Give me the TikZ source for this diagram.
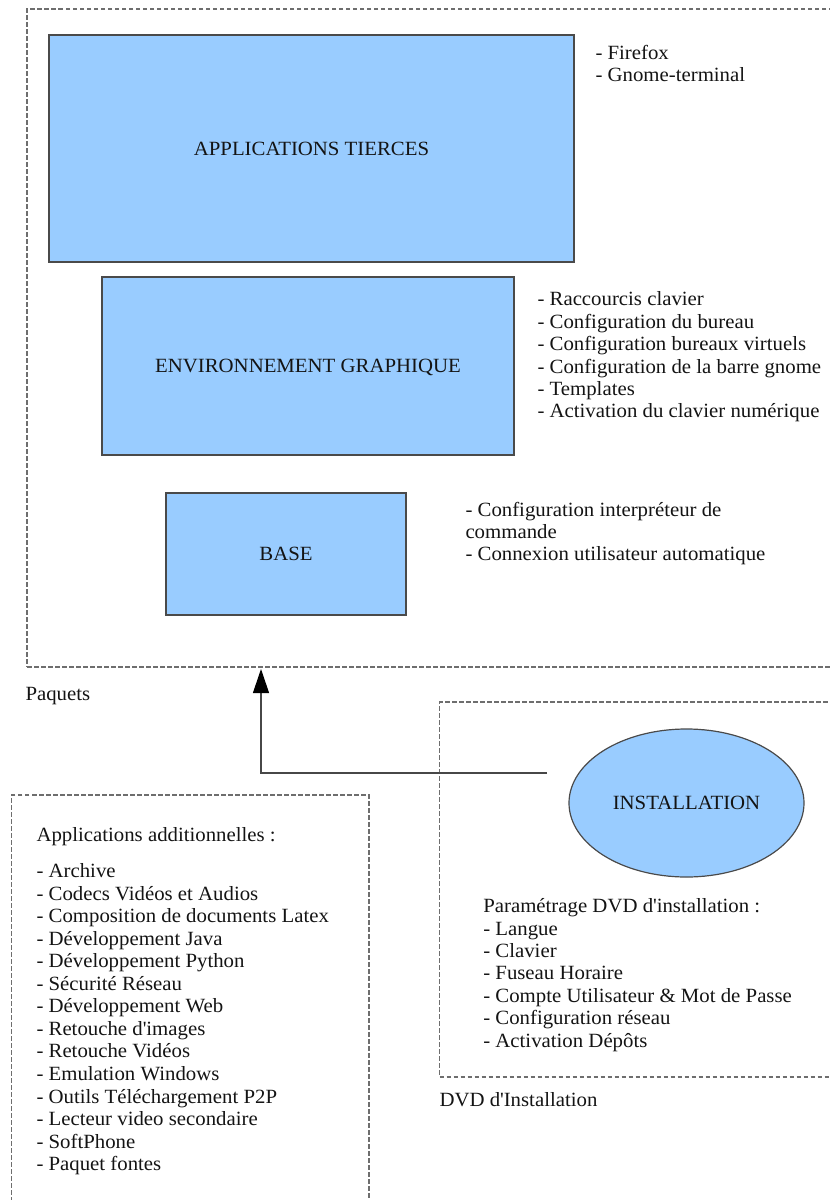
\documentclass[tikz,border=0pt]{standalone}
\usepackage{fontspec}
\setmainfont[FakeStretch=1.03]{Liberation Serif}
\usetikzlibrary{arrows.meta,shapes.geometric}
\definecolor{boxfill}{HTML}{99CCFF}
\definecolor{boxline}{HTML}{4A4A4A}
\definecolor{txt}{HTML}{141414}
\definecolor{dashc}{HTML}{6E6E6E}
\begin{document}
\begin{tikzpicture}[x=1pt,y=-1pt,
  every node/.style={font=\fontsize{20.2}{22.45}\selectfont, text=txt, inner sep=0pt, outer sep=0pt},
  layerbox/.style={draw=boxline, line width=1.6pt, fill=boxfill, anchor=north west, text depth=0pt},
  groupbox/.style={draw=dashc, line width=1.1pt, dash pattern=on 4.5pt off 2.5pt, anchor=north west},
  item/.style={anchor=base west},
  conn/.style={draw=black!72, line width=1.1pt}
]
\useasboundingbox (0,0) rectangle (830,1200);
\clip (0,0) rectangle (830,1200);
\fill[white] (0,0) rectangle (830,1200);

% dashed groups
\node[groupbox, minimum width=830pt, minimum height=658pt] (paq) at (27,9) {};
\node[groupbox, minimum width=500pt, minimum height=375pt] (dvd) at (439.5,702) {};
\node[groupbox, minimum width=357.5pt, minimum height=500pt] (addbox) at (11.5,795) {};

% layers
\node[layerbox, minimum width=525pt, minimum height=227pt] (tiers) at (49,35) {APPLICATIONS TIERCES};
\node[layerbox, minimum width=412pt, minimum height=178pt] (env) at (102,277) {ENVIRONNEMENT GRAPHIQUE};
\node[layerbox, minimum width=240pt, minimum height=122pt] (base) at (166,493) {BASE};

% installation
\node[ellipse, draw=boxline, line width=1.2pt, fill=boxfill, minimum width=235pt, minimum height=148pt, text depth=0pt] (inst) at (686.5,803) {INSTALLATION};

% lists
\foreach \t [count=\i] in {- Firefox, - Gnome-terminal}
  \node[item] (tl-\i) at (595.5,{59.3+22.3*(\i-1)}) {\t};

\foreach \t [count=\i] in {- Raccourcis clavier, - Configuration du bureau, - Configuration bureaux virtuels, - Configuration de la barre gnome, - Templates, - Activation du clavier numérique}
  \node[item] (el-\i) at (537.5,{305.7+22.45*(\i-1)}) {\t};

\foreach \t [count=\i] in {- Configuration interpréteur de, commande, - Connexion utilisateur automatique}
  \node[item] (bl-\i) at (465.5,{516.7+22*(\i-1)}) {\t};

\node[item] (addtitle) at (36.5,841) {Applications additionnelles :};
\foreach \t [count=\i] in {- Archive, - Codecs Vidéos et Audios, - Composition de documents Latex, - Développement Java, - Développement Python, - Sécurité Réseau, - Développement Web, - Retouche d\textquotesingle images, - Retouche Vidéos, - Emulation Windows, - Outils Téléchargement P2P, - Lecteur video secondaire, - SoftPhone, - Paquet fontes}
  \node[item] (al-\i) at (36.5,{877.5+22.55*(\i-1)}) {\t};

\foreach \t [count=\i] in {Paramétrage DVD d\textquotesingle installation :, - Langue, - Clavier, - Fuseau Horaire, - Compte Utilisateur \& Mot de Passe, - Configuration réseau, - Activation Dépôts}
  \node[item] (pl-\i) at (483.3,{912.7+22.4*(\i-1)}) {\t};

% group labels
\node[item] (paqlabel) at (25.5,700) {Paquets};
\node[item] (dvdlabel) at (439.5,1106) {DVD d\textquotesingle Installation};

% connector
\coordinate (lineend) at ([xshift=-22pt,yshift=30pt]inst.west);
\coordinate (arrtip) at (261,669);
\draw[conn, -{Triangle[length=24pt,width=16pt,color=black]}] (lineend) -| (arrtip);
\end{tikzpicture}
\end{document}
